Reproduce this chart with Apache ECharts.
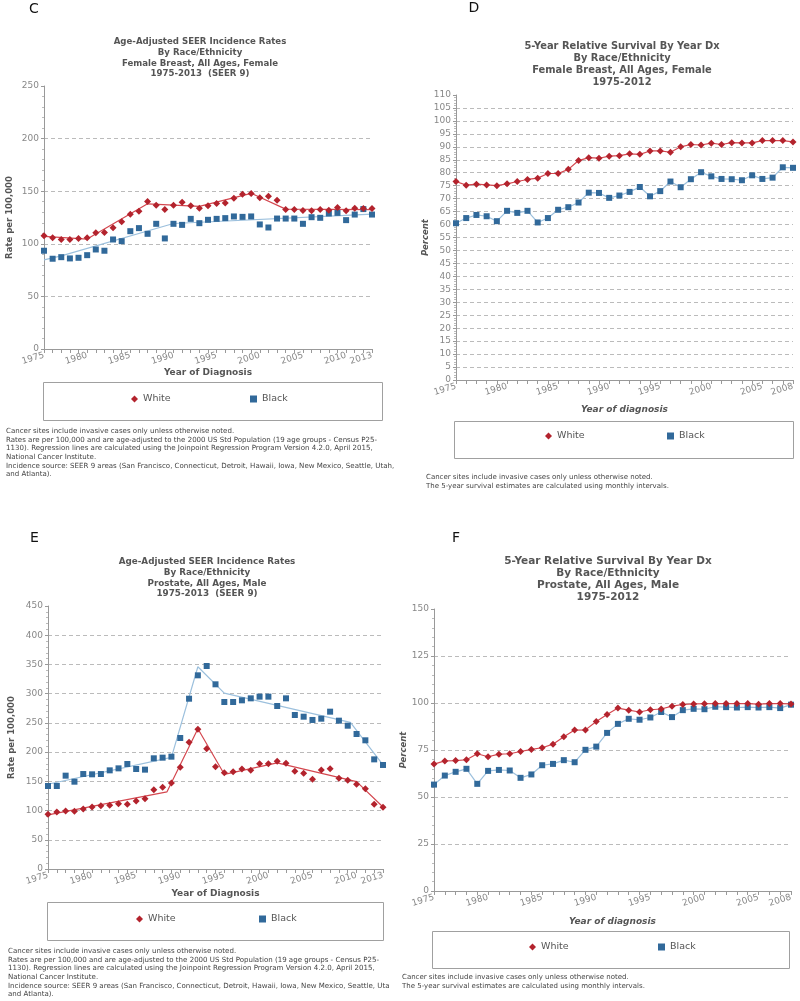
<!DOCTYPE html>
<html><head><meta charset="utf-8">
<script src="https://cdn.jsdelivr.net/npm/echarts@6/dist/echarts.min.js"></script>
<style>html,body{margin:0;padding:0;background:#fff}#c{width:800px;height:1001px}</style>
</head><body><div id="c"></div>
<script>
// ---------- DATA ----------
const yearsInc = [1975,1976,1977,1978,1979,1980,1981,1982,1983,1984,1985,1986,1987,1988,1989,1990,1991,1992,1993,1994,1995,1996,1997,1998,1999,2000,2001,2002,2003,2004,2005,2006,2007,2008,2009,2010,2011,2012,2013];
const yearsSurv = [1975,1976,1977,1978,1979,1980,1981,1982,1983,1984,1985,1986,1987,1988,1989,1990,1991,1992,1993,1994,1995,1996,1997,1998,1999,2000,2001,2002,2003,2004,2005,2006,2007,2008];
const incTickLabels = [1975,1980,1985,1990,1995,2000,2005,2010,2013];
const survTickLabels = [1975,1980,1985,1990,1995,2000,2005,2008];

// C: Female breast incidence
const cWhite = [107.6,105.7,104,104,105,105.7,110.4,110.8,115.2,120.9, 128.2,131,140.2,136.7,132.6,136.7,139.6,136.1,133.9,136.1, 138.3,138.9,143.4,147.2,147.8,143.7,145.3,141.5,132.6,132.6, 131.6,131.3,132.6,132,134.5,131.3,133.9,133.5,133.5];
const cBlack = [93.4,85.8,87.3,86.1,86.7,89.2,94.6,93.4,104.1,102.5, 112,114.9,109.5,119,105.1,119,118,123.7,119.6,122.8, 123.7,124.4,126,125.6,126,118.4,115.5,124,124,124, 119,125.3,124.7,128.8,129.4,122.5,127.8,133,127.8];
const cWhiteTrend = [[1975,107],[1980,104.5],[1987,138],[1993,135.5],[1999,148],[2003,133],[2013,132.5]];
const cBlackTrend = [[1975,84.8],[1977,88.5],[1990,119.3],[2013,128.2]];

// D: Female breast 5-yr survival
const dWhite = [76.6,75.2,75.6,75.3,75.0,75.7,76.6,77.4,77.9,79.7, 79.7,81.3,84.7,85.8,85.6,86.4,86.6,87.3,87.1,88.4, 88.4,87.9,90,90.9,90.7,91.4,90.9,91.6,91.5,91.5, 92.4,92.4,92.4,91.9];
const dBlack = [60.5,62.5,63.7,63.2,61.3,65.3,64.5,65.3,60.8,62.5, 65.7,66.7,68.5,72.3,72.2,70.3,71.2,72.6,74.5,70.9, 72.9,76.6,74.4,77.5,80.2,78.6,77.6,77.5,77.1,79, 77.6,78.1,82.1,81.9];

// E: Prostate incidence
const eWhite = [93.5,97.5,99.2,98.7,102.7,106.1,108.4,108.9,111.8,110.6, 116.3,120.3,135.7,139.7,147.1,174,216.7,239,205.9,175.1, 164.8,166.5,171.1,168.8,180.2,180.2,184.2,180.8,167.1,163.7, 153.4,169.4,171.7,155.1,151.7,144.9,137.5,110.6,105.5];
const eBlack = [142,142,159.7,149.4,162.5,162,162.5,168.8,172.2,179.7, 171.1,170,189.4,190.5,192.2,224.1,291.4,331.4,347.3,316, 285.7,285.7,288.6,292,294.9,294.9,278.9,292,263.5,260.6, 255,257.2,269.2,253.8,245.2,231,220.2,187.6,178];
const eWhiteTrend = [[1975,92.5],[1988.5,132],[1992,240],[1995,162],[2001,181.5],[2010,149.5],[2013,106]];
const eBlackTrend = [[1975,145],[1989,191],[1992,346],[1995,301],[2009.3,251],[2013,178]];

// F: Prostate 5-yr survival
const fWhite = [67.5,69.2,69.4,69.8,73,71.4,72.8,73,74.2,75.3, 76.2,78.1,82,85.6,85.7,90.2,93.9,97.3,96.2,95.2, 96.4,96.8,98.3,99.2,99.5,99.6,99.7,99.7,99.7,99.7, 99.4,99.7,99.7,99.5];
const fBlack = [56.6,61.4,63.4,65,57,63.9,64.4,64.1,60.2,62, 66.9,67.6,69.6,68.5,75.1,76.8,84.1,88.9,91.6,91.1, 92.3,95.2,92.5,96.2,96.9,96.7,98,97.8,97.6,97.8, 97.6,97.8,97.3,99.1];

const incNote = [
  'Cancer sites include invasive cases only unless otherwise noted.',
  'Rates are per 100,000 and are age-adjusted to the 2000 US Std Population (19 age groups - Census P25-',
  '1130). Regression lines are calculated using the Joinpoint Regression Program Version 4.2.0, April 2015,',
  'National Cancer Institute.',
  'Incidence source: SEER 9 areas (San Francisco, Connecticut, Detroit, Hawaii, Iowa, New Mexico, Seattle, Utah,',
  'and Atlanta).'
];
const incNoteE = incNote.slice(0,4).concat(['Incidence source: SEER 9 areas (San Francisco, Connecticut, Detroit, Hawaii, Iowa, New Mexico, Seattle, Uta', 'and Atlanta).']);
const survNote = [
  'Cancer sites include invasive cases only unless otherwise noted.',
  'The 5-year survival estimates are calculated using monthly intervals.'
];

// ---------- STYLE ----------
const FONT = '"DejaVu Sans", sans-serif';
const RED = '#b3232d', RED_LINE = '#d4474f';
const BLUE = '#31699a', BLUE_LINE = '#9cc0dd';
const pair = (ys, vs) => ys.map((y, i) => [y, vs[i]]);

function xAx(grid, max, labels, name, italic, gap) {
  return {
    type: 'value', gridIndex: grid, min: 1975, max: max, interval: 1,
    axisLine: { lineStyle: { color: '#999' } },
    axisTick: { length: 4, lineStyle: { color: '#999' } },
    axisLabel: { rotate: 17, fontSize: 9, color: '#888', fontFamily: FONT, margin: 6,
      formatter: v => labels.indexOf(v) >= 0 ? String(v) : '' },
    splitLine: { show: false },
    name: name, nameLocation: 'middle', nameGap: gap,
    nameTextStyle: { fontSize: 9, fontWeight: 'bold', fontStyle: italic ? 'italic' : 'normal', color: '#555', fontFamily: FONT }
  };
}
function yAx(grid, max, interval, name, italic, gap) {
  return {
    type: 'value', gridIndex: grid, min: 0, max: max, interval: interval,
    axisLine: { show: true, lineStyle: { color: '#999' } },
    axisTick: { show: true, length: 3, lineStyle: { color: '#999' } },
    minorTick: { show: true, splitNumber: 5, length: 2, lineStyle: { color: '#bbb' } },
    axisLabel: { fontSize: 9, color: '#888', fontFamily: FONT, margin: 5 },
    splitLine: { show: true, showMinLine: false, showMaxLine: false, lineStyle: { type: [4, 3], color: '#bbb', width: 1 } },
    name: name, nameLocation: 'middle', nameGap: gap,
    nameTextStyle: { fontSize: 8.5, fontWeight: 'bold', fontStyle: italic ? 'italic' : 'normal', color: '#555', fontFamily: FONT }
  };
}

const graphics = [];
function T(x, y, text, font, fill, align) {
  graphics.push({ type: 'text', x: x, y: y, silent: true,
    style: { text: text, font: font, fill: fill, textAlign: align || 'center', textVerticalAlign: 'middle', align: align || 'center', verticalAlign: 'middle' } });
}
function box(x1, y1, x2, y2) {
  graphics.push({ type: 'rect', shape: { x: x1 + 0.5, y: y1 + 0.5, width: x2 - x1, height: y2 - y1 },
    style: { fill: '#fff', stroke: '#a0a0a0', lineWidth: 1 }, z: -1 });
}
function lines(x, y0, step, arr, font, fill, align) { arr.forEach((t, i) => T(x, y0 + i * step, t, font, fill, align)); }

// panel letters
T(34, 9, 'C', '14px ' + FONT, '#111');
T(474, 8, 'D', '14px ' + FONT, '#111');
T(34.5, 538, 'E', '14px ' + FONT, '#111');
T(456, 538, 'F', '14px ' + FONT, '#111');
// titles
const tfI = 'bold 8.6px ' + FONT;
lines(200, 42, 10.7, ['Age-Adjusted SEER Incidence Rates', 'By Race/Ethnicity', 'Female Breast, All Ages, Female', '1975-2013  (SEER 9)'], tfI, '#555');
lines(622, 46, 12.2, ['5-Year Relative Survival By Year Dx', 'By Race/Ethnicity', 'Female Breast, All Ages, Female', '1975-2012'], 'bold 9.9px ' + FONT, '#555');
lines(207, 562, 10.7, ['Age-Adjusted SEER Incidence Rates', 'By Race/Ethnicity', 'Prostate, All Ages, Male', '1975-2013  (SEER 9)'], 'bold 8.8px ' + FONT, '#555');
lines(608, 561, 12, ['5-Year Relative Survival By Year Dx', 'By Race/Ethnicity', 'Prostate, All Ages, Male', '1975-2012'], 'bold 10.5px ' + FONT, '#555');
// legend boxes
box(43, 382, 382, 420);
box(454, 421, 793, 458);
box(47, 902, 383, 940);
box(432, 931, 789, 968);
// footnotes
const nfI = '7.05px ' + FONT, nfS = '7px ' + FONT;
lines(6, 431, 8.7, incNote, nfI, '#444', 'left');
lines(426, 477, 9.3, survNote, nfS, '#444', 'left');
lines(8, 951, 8.7, incNoteE, nfI, '#444', 'left');
lines(402, 977, 9.2, survNote, nfS, '#444', 'left');

function L(cx, cy, name, icon) {
  return { left: cx - 4, top: cy - 6, padding: 0, itemWidth: 7, itemHeight: 7, itemGap: 0, selectedMode: false,
    data: [{ name: name, icon: icon }], textStyle: { fontSize: 9.5, color: '#555', fontFamily: FONT } };
}

const option = {
  animation: false,
  backgroundColor: '#fff',
  grid: [
    { left: 44, top: 86, width: 328, height: 263 },
    { left: 456, top: 95, width: 337, height: 285 },
    { left: 48, top: 606, width: 335, height: 263 },
    { left: 434, top: 609, width: 357, height: 282 }
  ],
  xAxis: [
    xAx(0, 2013, incTickLabels, 'Year of Diagnosis', false, 19),
    xAx(1, 2008, survTickLabels, 'Year of diagnosis', true, 25),
    xAx(2, 2013, incTickLabels, 'Year of Diagnosis', false, 20),
    xAx(3, 2008, survTickLabels, 'Year of diagnosis', true, 26)
  ],
  yAxis: [
    yAx(0, 250, 50, 'Rate per 100,000', false, 30),
    yAx(1, 110, 5, 'Percent', true, 24),
    yAx(2, 450, 50, 'Rate per 100,000', false, 32),
    yAx(3, 150, 25, 'Percent', true, 25)
  ],
  legend: [
    L(135, 400, 'White', 'diamond'), L(254, 400, 'Black', 'rect'),
    L(549, 437, 'White', 'diamond'), L(671, 437, 'Black', 'rect'),
    L(140, 920, 'White', 'diamond'), L(263, 920, 'Black', 'rect'),
    L(533, 948, 'White', 'diamond'), L(662, 948, 'Black', 'rect')
  ],
  graphic: { elements: graphics },
  series: [
    // C
    { name: 'White trend', type: 'line', xAxisIndex: 0, yAxisIndex: 0, data: cWhiteTrend, showSymbol: false, lineStyle: { color: RED_LINE, width: 1.2 }, z: 2 },
    { name: 'Black trend', type: 'line', xAxisIndex: 0, yAxisIndex: 0, data: cBlackTrend, showSymbol: false, lineStyle: { color: BLUE_LINE, width: 1.2 }, z: 2 },
    { name: 'Black', type: 'scatter', xAxisIndex: 0, yAxisIndex: 0, data: pair(yearsInc, cBlack), symbol: 'rect', symbolSize: 6, itemStyle: { color: BLUE, opacity: 1 }, z: 3 },
    { name: 'White', type: 'scatter', xAxisIndex: 0, yAxisIndex: 0, data: pair(yearsInc, cWhite), symbol: 'diamond', symbolSize: 7, itemStyle: { color: RED, opacity: 1 }, z: 4 },
    // D
    { name: 'Black', type: 'line', xAxisIndex: 1, yAxisIndex: 1, data: pair(yearsSurv, dBlack), symbol: 'rect', symbolSize: 6, lineStyle: { color: BLUE_LINE, width: 1.2 }, itemStyle: { color: BLUE }, z: 3 },
    { name: 'White', type: 'line', xAxisIndex: 1, yAxisIndex: 1, data: pair(yearsSurv, dWhite), symbol: 'diamond', symbolSize: 7, lineStyle: { color: RED_LINE, width: 1.2 }, itemStyle: { color: RED }, z: 4 },
    // E
    { name: 'White trend', type: 'line', xAxisIndex: 2, yAxisIndex: 2, data: eWhiteTrend, showSymbol: false, lineStyle: { color: RED_LINE, width: 1.2 }, z: 2 },
    { name: 'Black trend', type: 'line', xAxisIndex: 2, yAxisIndex: 2, data: eBlackTrend, showSymbol: false, lineStyle: { color: BLUE_LINE, width: 1.2 }, z: 2 },
    { name: 'Black', type: 'scatter', xAxisIndex: 2, yAxisIndex: 2, data: pair(yearsInc, eBlack), symbol: 'rect', symbolSize: 6, itemStyle: { color: BLUE, opacity: 1 }, z: 3 },
    { name: 'White', type: 'scatter', xAxisIndex: 2, yAxisIndex: 2, data: pair(yearsInc, eWhite), symbol: 'diamond', symbolSize: 7, itemStyle: { color: RED, opacity: 1 }, z: 4 },
    // F
    { name: 'Black', type: 'line', xAxisIndex: 3, yAxisIndex: 3, data: pair(yearsSurv, fBlack), symbol: 'rect', symbolSize: 6, lineStyle: { color: BLUE_LINE, width: 1.2 }, itemStyle: { color: BLUE }, z: 3 },
    { name: 'White', type: 'line', xAxisIndex: 3, yAxisIndex: 3, data: pair(yearsSurv, fWhite), symbol: 'diamond', symbolSize: 7, lineStyle: { color: RED_LINE, width: 1.2 }, itemStyle: { color: RED }, z: 4 }
  ]
};
const chart = echarts.init(document.getElementById('c'), null, { renderer: 'canvas' });
chart.setOption(option);
</script></body></html>
